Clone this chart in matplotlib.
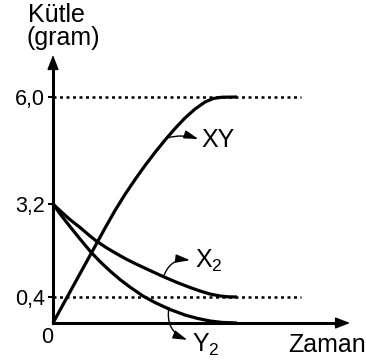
import numpy as np
import matplotlib
matplotlib.use("Agg")
from matplotlib import pyplot as plt
from matplotlib.ticker import NullLocator

plt.rcParams['font.family'] = ['Liberation Sans', 'DejaVu Sans']
plt.rcParams['mathtext.default'] = 'regular'

# Daten (Zeit in willkürlichen Einheiten, Masse in Gramm)
zaman_xy = [0, 0.92, 2.01, 2.83, 3.37, 3.91, 4.46, 5.00, 5.54, 6.09, 6.63, 7.17, 7.72,
            8.26, 8.70, 9.18, 10]
kutle_xy = [0, 0.551, 1.649, 2.477, 3.004, 3.449, 3.841, 4.207, 4.548, 4.875, 5.176, 5.450,
            5.686, 5.869, 5.961, 5.995, 6.0]
zaman_x2 = [0, 0.43, 0.92, 1.47, 2.01, 2.39, 2.93, 3.48, 4.02, 4.57, 5.27, 5.98, 6.74,
            7.45, 7.99, 8.53, 9.08, 9.51, 10]
kutle_x2 = [3.2, 2.974, 2.733, 2.493, 2.237, 2.071, 1.875, 1.695, 1.529, 1.379, 1.198, 1.017,
            0.837, 0.686, 0.581, 0.490, 0.430, 0.406, 0.40]
zaman_y2 = [0, 0.43, 0.92, 1.47, 2.01, 2.55, 3.10, 3.64, 4.18, 4.89, 5.54, 6.36, 7.17,
            7.83, 8.53, 9.18, 10]
kutle_y2 = [3.2, 2.869, 2.523, 2.146, 1.785, 1.469, 1.183, 0.927, 0.701, 0.430, 0.315, 0.208,
            0.123, 0.072, 0.031, 0.009, 0.0]
ytick_vals = [0.4, 3.2, 6.0]
ytick_labels = ['0,4', '3,2', '6,0']
ref_levels = [6.0, 0.4]
ref_end = 13.5

# schematische (nicht lineare) y-Achse
gk = [-10, 0, 0.4, 3.2, 6.0, 30]
hk = [-650, 0, 26, 119, 226, 1143]


def fwd(g):
    return np.interp(g, gk, hk)


def inv(h):
    return np.interp(h, hk, gk)


fig = plt.figure(figsize=(3.66, 3.63), dpi=100)
ax = fig.add_axes([53 / 366, 40 / 363, 297 / 366, 268 / 363])
ax.set_yscale('function', functions=(fwd, inv))
ax.set_xlim(0, 16.14)
ax.set_ylim(0, 7.10)

# Hilfslinien
for lvl in ref_levels:
    ax.plot([0, ref_end], [lvl, lvl], color='k', lw=1.8, linestyle=(0, (1.2, 1.4)))

# Kurven
for zs, ks in [(zaman_xy, kutle_xy), (zaman_x2, kutle_x2), (zaman_y2, kutle_y2)]:
    ax.plot(zs, ks, color='k', lw=2.3, solid_capstyle='butt', solid_joinstyle='round', clip_on=False)

# Achsen
for s in ['top', 'right']:
    ax.spines[s].set_visible(False)
ax.spines['left'].set_linewidth(2.2)
ax.spines['bottom'].set_linewidth(2.2)
ax.spines['bottom'].set_bounds(0, 15.5)
ax.spines['left'].set_bounds(0, 6.8)
ax.set_xticks([])
ax.set_yticks(ytick_vals)
ax.set_yticklabels(ytick_labels)
ax.yaxis.set_minor_locator(NullLocator())
ax.tick_params(axis='y', direction='out', length=3.6, width=1.5, labelsize=15.5, pad=2)

head = '-|>,head_length=0.9,head_width=0.35'
ax.annotate('', xy=(1, 0), xytext=(0.9, 0), xycoords='axes fraction',
            arrowprops=dict(arrowstyle=head, color='k', lw=1, shrinkA=0, shrinkB=0))
ax.annotate('', xy=(0, 1), xytext=(0, 0.9), xycoords='axes fraction',
            arrowprops=dict(arrowstyle=head, color='k', lw=1, shrinkA=0, shrinkB=0))

# Beschriftungen mit Pfeilen
small = '-|>,head_length=0.85,head_width=0.25'
ax.annotate('', xy=(7.9, 4.9), xytext=(6.2, 4.93),
            arrowprops=dict(arrowstyle=small, color='k', lw=1, shrinkA=0, shrinkB=0,
                            connectionstyle='arc3,rad=-0.15'))
ax.annotate('', xy=(7.45, 1.51), xytext=(6.0, 1.0),
            arrowprops=dict(arrowstyle=small, color='k', lw=1, shrinkA=0, shrinkB=0,
                            connectionstyle='arc3,rad=-0.4'))
ax.annotate('', xy=(7.3, -0.26), xytext=(6.3, 0.24), annotation_clip=False,
            arrowprops=dict(arrowstyle=small, color='k', lw=1, shrinkA=0, shrinkB=0,
                            connectionstyle='arc3,rad=0.4'))

fs = 18
ax.text(8.08, 4.69, 'XY', fontsize=fs, va='baseline')
ax.text(7.72, 1.27, '$X_2$', fontsize=fs, va='baseline')
ax.text(7.55, -0.446, '$Y_2$', fontsize=fs, va='baseline')
ax.text(0, -0.31, '0', fontsize=15.5, ha='right', va='baseline')
ax.text(14.9, -0.446, 'Zaman', fontsize=fs, ha='center', va='baseline')
ax.text(-1.36, 7.96, 'Kütle', fontsize=fs, va='baseline')
ax.text(-1.42, 7.36, '(gram)', fontsize=fs, va='baseline')

fig.savefig('out.png', dpi=100)
